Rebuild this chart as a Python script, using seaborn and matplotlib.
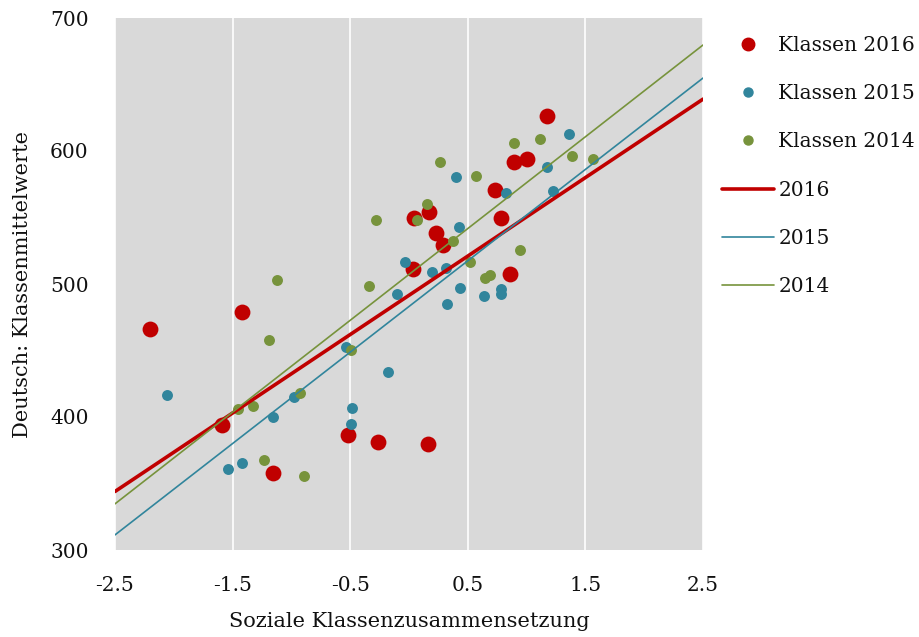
import matplotlib.pyplot as plt
from matplotlib.lines import Line2D
import pandas as pd
import seaborn as sns

# Klassen 2016 (soziale Zusammensetzung, Deutsch-Mittelwert)
x_2016 = [-2.20, -1.42, -1.59, -1.16, -0.52, -0.26, 0.16, 0.04, 0.17,
          0.23, 0.29, 0.03, 0.73, 0.78, 0.86, 0.89, 1.00, 1.17]
y_2016 = [466, 479, 394, 358, 386.5, 381, 380, 550, 554,
          538, 529, 511, 571, 550, 507.5, 592, 594, 626.5]

# Klassen 2015
x_2015 = [-2.055, -1.539, -1.423, -1.159, -0.975, -0.536, -0.485, -0.496,
          -0.181, -0.105, -0.034, 0.198, 0.315, 0.323, 0.397, 0.425, 0.436,
          0.638, 0.785, 0.785, 0.827, 1.176, 1.227, 1.358]
y_2015 = [416.8, 361, 365.4, 400.2, 414.8, 452.9, 406.8, 394.7,
          433.6, 492.2, 516.8, 509, 512.3, 485.2, 580.7, 543.1, 497.2,
          491.2, 496.5, 492.2, 568.7, 587.7, 569.7, 612.5]

# Klassen 2014
x_2014 = [-1.457, -1.324, -1.236, -1.193, -1.125, -0.927, -0.896, -0.496,
          -0.343, -0.283, 0.068, 0.156, 0.264, 0.377, 0.519, 0.567, 0.646,
          0.689, 0.893, 0.944, 1.114, 1.389, 1.568]
y_2014 = [405.8, 408.3, 367.7, 458.1, 503, 418.3, 355.6, 450.4,
          498.3, 547.9, 547.9, 560.4, 591.4, 532.6, 516.5, 581.0, 504.8,
          507.0, 605.8, 525.6, 608.8, 596.0, 594.0]

# Trendlinien: Wert bei x=0 und Steigung
trend_years = ["2016", "2015", "2014"]
trend_intercept = [491.5, 483.1, 507.2]
trend_slope = [59.0, 68.7, 69.0]

x_ticks = [-2.5, -1.5, -0.5, 0.5, 1.5, 2.5]
x_ticklabels = ["-2.5", "-1.5", "-0.5", "0.5", "1.5", "2.5"]
y_ticks = [300, 400, 500, 600, 700]

colors = {"2016": "#C00000", "2015": "#31859C", "2014": "#77933C"}
dot_size = {"2016": 130, "2015": 62, "2014": 62}
line_width = {"2016": 2.6, "2015": 1.2, "2014": 1.2}

df = pd.concat([
    pd.DataFrame({"x": x_2016, "y": y_2016, "Jahr": "2016"}),
    pd.DataFrame({"x": x_2015, "y": y_2015, "Jahr": "2015"}),
    pd.DataFrame({"x": x_2014, "y": y_2014, "Jahr": "2014"}),
])

sns.set_style("white")
plt.rcParams["font.family"] = ["DejaVu Serif"]

fig = plt.figure(figsize=(9.2, 6.37), dpi=100)
ax = fig.add_axes([115 / 920, 1 - 550 / 637, 588 / 920, 532 / 637])
ax.set_facecolor("#D9D9D9")

# points
for year in ["2016", "2015", "2014"]:
    sns.scatterplot(data=df[df["Jahr"] == year], x="x", y="y", color=colors[year],
                    s=dot_size[year], linewidth=0, ax=ax, zorder=2, legend=False)

# trend lines
for year, b, m in zip(trend_years, trend_intercept, trend_slope):
    ax.axline((0, b), slope=m, color=colors[year], linewidth=line_width[year], zorder=3)

ax.set_xlim(-2.5, 2.5)
ax.set_ylim(300, 700)
ax.set_xticks(x_ticks)
ax.set_xticklabels(x_ticklabels)
ax.set_yticks(y_ticks)
ax.grid(axis="x", color="white", linewidth=1.2, zorder=0)
ax.grid(axis="y", visible=False)
ax.set_axisbelow(True)
for s in ax.spines.values():
    s.set_visible(False)
ax.tick_params(length=0, pad=19, labelsize=14.5, colors="#111111")

ax.set_xlabel("Soziale Klassenzusammensetzung", fontsize=15, labelpad=12, color="#111111")
ax.set_ylabel("Deutsch: Klassenmittelwerte", fontsize=15, labelpad=13, color="#111111")

# legend
handles = [
    Line2D([], [], marker="o", linestyle="none", color=colors["2016"], markersize=9),
    Line2D([], [], marker="o", linestyle="none", color=colors["2015"], markersize=6.5),
    Line2D([], [], marker="o", linestyle="none", color=colors["2014"], markersize=6.5),
    Line2D([], [], color=colors["2016"], linewidth=line_width["2016"]),
    Line2D([], [], color=colors["2015"], linewidth=line_width["2015"]),
    Line2D([], [], color=colors["2014"], linewidth=line_width["2014"]),
]
labels = ["Klassen 2016", "Klassen 2015", "Klassen 2014", "2016", "2015", "2014"]
fig.legend(handles, labels, loc="upper left", bbox_to_anchor=(722 / 920, 1 - 36 / 637),
           frameon=False, fontsize=14.5, handlelength=2.6, handletextpad=0.2,
           labelspacing=1.45, borderpad=0, borderaxespad=0, labelcolor="#111111")

fig.savefig("out.png", dpi=100)
